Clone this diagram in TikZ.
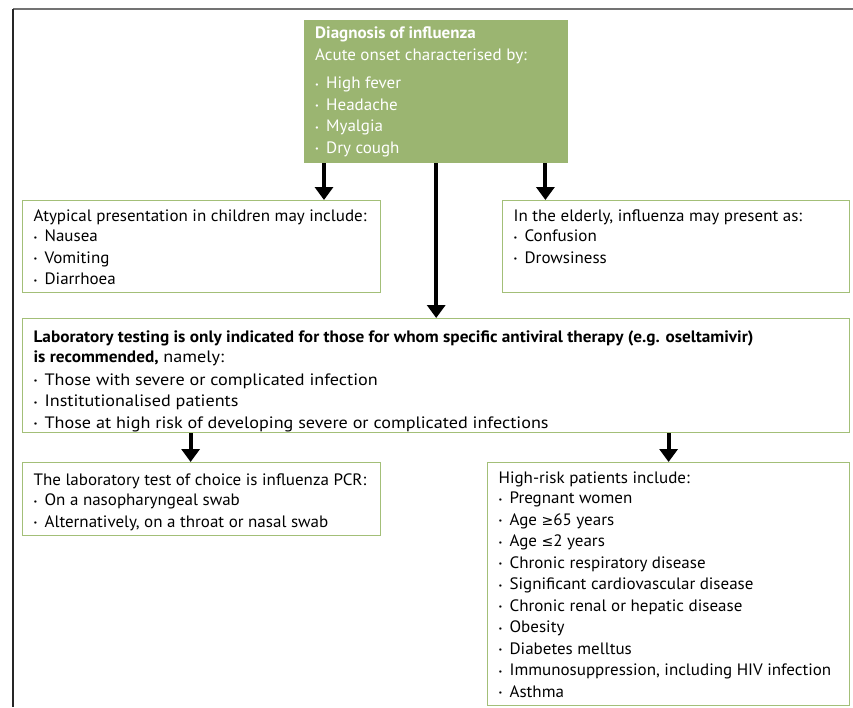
\documentclass[tikz,border=0pt]{standalone}
\usepackage{fontspec}
\setmainfont{PT Sans}[FakeStretch=1.03]
\newfontfamily\labfont{PT Sans}[FakeStretch=1.1, BoldFeatures={FakeStretch=1.045}]
\newfontfamily\symfont{DejaVu Sans}[Scale=0.85]
\usetikzlibrary{arrows.meta}
\definecolor{flugreen}{RGB}{155,181,113}
\definecolor{boxline}{RGB}{163,191,120}
\newcommand{\blt}{\makebox[11pt][l]{\raisebox{0.2ex}{\footnotesize\textbullet}}}

\begin{document}
\begin{tikzpicture}[
  x=1pt, y=-1pt,
  font=\fontsize{16.5}{21.5}\selectfont,
  info/.style={draw=boxline, line width=1.2pt, anchor=north west,
               inner xsep=11pt, inner ysep=9.5pt},
  diagbox/.style={fill=flugreen, text=white, anchor=north west,
                  inner xsep=11pt, inner ysep=7pt},
  arr/.style={-{Triangle[width=18pt,length=13pt]}, line width=4pt}
]
  \useasboundingbox (0,0) rectangle (853,707);

  %% frame lines
  \draw[line width=1.7pt, black!55] (13,9) -- (853,9);
  \draw[line width=1.2pt, black!85] (13,9) -- (13,707);

  \node[diagbox] (diag) at (304,20) {\parbox[t][129pt][t]{242pt}{%
    \textbf{Diagnosis of influenza}\\
    Acute onset characterised by:\\[7pt]
    \blt High fever\\
    \blt Headache\\
    \blt Myalgia\\
    \blt Dry cough}};
  \node[info] (kids) at (22,200) {\parbox[t][73pt][t]{336pt}{%
    Atypical presentation in children may include:\\[-1.5pt]
    \blt Nausea\\
    \blt Vomiting\\
    \blt Diarrhoea}};
  \node[info] (old) at (502,200) {\parbox[t][73pt][t]{325pt}{%
    In the elderly, influenza may present as:\\[-1.5pt]
    \blt Confusion\\
    \blt Drowsiness}};
  \node[info, inner ysep=12pt] (lab) at (22,318) {\parbox[t][90pt][t]{805pt}{\labfont
    \textbf{Laboratory testing is only indicated for those for whom specific antiviral therapy (e.g. oseltamivir)}\\[-1pt]
    \textbf{is recommended,} namely:\\[1pt]
    \blt Those with severe or complicated infection\\
    \blt Institutionalised patients\\
    \blt Those at high risk of developing severe or complicated infections}};
  \node[info, inner ysep=11pt] (pcr) at (22,462) {\parbox[t][51pt][t]{336pt}{%
    The laboratory test of choice is influenza PCR:\\[-1pt]
    \blt On a nasopharyngeal swab\\
    \blt Alternatively, on a throat or nasal swab}};
  \node[info] (risk) at (487,462) {\parbox[t][224pt][t]{340pt}{%
    High-risk patients include:\\[-1.5pt]
    \blt Pregnant women\\
    \blt Age {\symfont ≥}65 years\\
    \blt Age {\symfont ≤}2 years\\
    \blt Chronic respiratory disease\\
    \blt Significant cardiovascular disease\\
    \blt Chronic renal or hepatic disease\\
    \blt Obesity\\
    \blt Diabetes melltus\\
    \blt Immunosuppression, including HIV infection\\
    \blt Asthma}};

  %% diagnosis -> children / elderly / laboratory
  \draw[arr] ([xshift=20pt]diag.south west) -- ([xshift=20pt]diag.south west |- kids.north);
  \draw[arr] ([xshift=-23pt]diag.south east) -- ([xshift=-23pt]diag.south east |- old.north);
  \draw[arr] (diag.south) -- (diag.south |- lab.north);

  %% laboratory -> PCR / high risk
  \draw[arr] ([xshift=-11pt]pcr.north |- lab.south) -- ([xshift=-11pt]pcr.north);
  \draw[arr] (risk.north |- lab.south) -- (risk.north);
\end{tikzpicture}
\end{document}
